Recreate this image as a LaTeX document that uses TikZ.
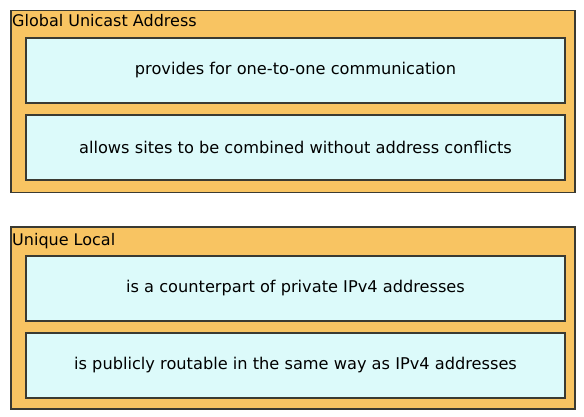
\documentclass[tikz,border=0pt]{standalone}
\usepackage{fontspec}
\setmainfont{DejaVu Sans}
\usetikzlibrary{positioning}
\definecolor{Amber}{HTML}{F8C462}
\definecolor{Aqua}{HTML}{DCFAFA}
\definecolor{Edge}{HTML}{3A3A32}
\begin{document}
\begin{tikzpicture}[x=1pt,y=-1pt,
      group/.style={draw=Edge,fill=Amber,line width=1.2pt,minimum width=564pt,minimum height=182pt,inner sep=0pt},
      item/.style={draw=Edge,fill=Aqua,line width=1.2pt,minimum width=539pt,minimum height=65pt,align=center,font=\fontsize{16.2}{19}\selectfont},
      title/.style={anchor=base west,inner sep=0pt,font=\fontsize{16}{19}\selectfont}]
      \useasboundingbox (0,0) rectangle (584,417);
      \node[group] (gua) at (293,101.5) {};
      \node[group] (ula) at (293,318) {};
      \node[title] (guaT) at (12,27) {Global Unicast Address};
      \node[title] (ulaT) at (12,245) {Unique Local};
      \node[item] (guaA) at (295.5,70.5) {provides for one-to-one communication};
      \node[item] (guaB) at (295.5,147.5) {allows sites to be combined without address conflicts};
      \node[item] (ulaA) at (295.5,288.5) {is a counterpart of private IPv4 addresses};
      \node[item] (ulaB) at (295.5,365.5) {is publicly routable in the same way as IPv4 addresses};
    \end{tikzpicture}
\end{document}
